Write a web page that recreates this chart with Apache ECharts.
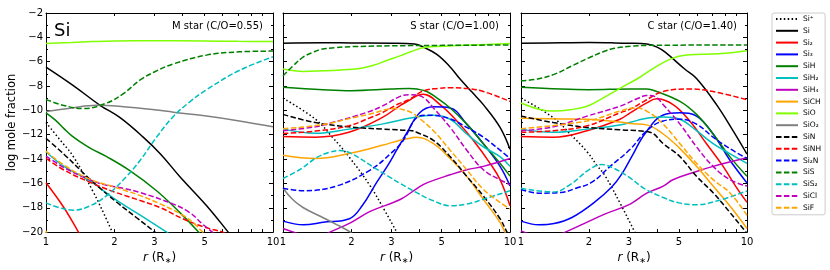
<!DOCTYPE html>
<html>
<head>
<meta charset="utf-8">
<script src="https://cdn.jsdelivr.net/npm/echarts@6/dist/echarts.min.js"></script>
<style>html,body{margin:0;padding:0;background:#fff}#c{width:830px;height:270px}</style>
</head>
<body>
<div id="c"></div>
<script>
// ---------- species ----------
const species = ['Si⁺','Si','Si₂','Si₃','SiH','SiH₂','SiH₄','SiCH','SiO','SiO₂','SiN','SiNH','Si₂N','SiS','SiS₂','SiCl','SiF'];
const panelTitles = ['M star (C/O=0.55)','S star (C/O=1.00)','C star (C/O=1.40)'];
const xTickLabels = [1,2,3,5,10];
const xTicks = [1,2,3,4,5,6,7,8,9,10];

// ---------- M star ----------
const M_Sip = [[1,-11.0],[1.15,-12.4],[1.32,-13.8],[1.62,-16.75],[1.8,-18.5],[1.97,-20.1]];
const M_Si = [[1,-6.44],[1.31,-7.92],[1.73,-9.58],[2.12,-10.6],[2.68,-12.2],[3.2,-13.6],[3.89,-15.45],[5.1,-17.83],[6.35,-20.0],[6.6,-20.4]];
const M_Si2 = [[1,-15.95],[1.2,-18.0],[1.39,-20.0],[1.45,-20.6]];
const M_Si3 = [];
const M_SiH = [[1,-10.2],[1.1,-10.8],[1.2,-11.5],[1.3,-12.1],[1.46,-12.75],[1.6,-13.2],[1.85,-13.8],[2.34,-14.95],[3.07,-16.6],[3.89,-18.4],[4.7,-20.0],[4.9,-20.5]];
const M_SiH2 = [[1,-13.4],[1.2,-14.6],[1.56,-15.8],[2.05,-17.4],[2.6,-18.6],[3.4,-20.0],[3.6,-20.3]];
const M_SiH4 = [];
const M_SiCH = [[1,-19.9],[1.02,-20.3]];
const M_SiO = [[1,-4.5],[1.3,-4.42],[1.6,-4.35],[2,-4.3],[3,-4.28],[5,-4.3],[7,-4.33],[10,-4.35]];
const M_SiO2 = [[1,-10.1],[1.3,-9.8],[1.67,-9.58],[2.2,-9.7],[3,-9.95],[3.64,-10.15],[5,-10.45],[7,-10.85],[10,-11.35]];
const M_SiN = [[1,-12.3],[1.2,-13.6],[1.56,-15.65],[2.05,-17.55],[2.5,-18.8],[3.02,-20.0],[3.2,-20.4]];
const M_SiNH = [[1,-13.95],[1.2,-14.9],[1.56,-15.9],[2.0,-16.7],[2.6,-17.4],[3.2,-18.0],[4.0,-18.9],[5.0,-19.6],[6.0,-20.0],[6.3,-20.2]];
const M_Si2N = [];
const M_SiS = [[1,-9.1],[1.2,-9.6],[1.46,-9.85],[1.85,-9.4],[2.2,-8.6],[2.59,-7.52],[3,-6.85],[3.64,-6.18],[5.1,-5.46],[7.14,-5.19],[10,-5.13]];
const M_SiS2 = [[1,-17.6],[1.15,-18.0],[1.32,-18.2],[1.56,-17.85],[1.85,-17.0],[2.27,-15.4],[2.6,-14.1],[3.07,-12.2],[3.64,-10.5],[4.3,-9.3],[5.1,-8.3],[7.14,-6.7],[10,-5.6]];
const M_SiCl = [[1,-13.75],[1.2,-14.7],[1.56,-15.7],[1.8,-16.1],[2.19,-16.4],[2.6,-16.75],[3.64,-17.7],[4.3,-18.4],[4.93,-19.4],[5.4,-20.0],[5.6,-20.3]];
const M_SiF = [[1,-13.35],[1.2,-14.5],[1.56,-15.65],[2.0,-16.3],[2.6,-17.0],[3.2,-17.7],[4.0,-18.6],[4.5,-19.3],[4.9,-20.0],[5.1,-20.3]];

// ---------- S star ----------
const S_Sip = [[1,-8.99],[1.39,-10.73],[1.65,-12.2],[1.95,-13.8],[2.42,-16.2],[2.8,-18.2],[3.17,-20.0],[3.3,-20.6]];
const S_Si = [[1,-4.48],[1.5,-4.44],[2,-4.46],[3,-4.48],[3.8,-4.55],[4.2,-4.85],[4.76,-5.4],[5.4,-6.35],[6.0,-7.38],[6.8,-8.5],[7.63,-9.53],[9.04,-11.4],[10,-13.2]];
const S_Si2 = [[1,-12.15],[1.39,-12.2],[1.95,-11.8],[2.73,-10.6],[3.28,-9.6],[3.58,-9.2],[3.88,-8.8],[4.15,-8.67],[4.92,-9.53],[5.83,-10.87],[6.9,-12.47],[8.17,-14.35],[9.04,-15.69],[10,-17.83]];
const S_Si3 = [[1,-19.1],[1.23,-19.4],[1.5,-19.2],[1.96,-18.9],[2.24,-17.8],[2.59,-15.9],[2.9,-14.5],[3.17,-13.25],[3.5,-11.9],[4.0,-10.2],[4.6,-9.71],[5.45,-9.8],[6.45,-11.13],[7.63,-12.74],[9.04,-14.6],[10,-16.2]];
const S_SiH = [[1,-8.1],[1.5,-8.3],[2,-8.38],[3,-8.25],[3.6,-8.2],[3.9,-8.25],[4.3,-8.45],[4.76,-8.97],[5.45,-9.8],[6.45,-11.13],[7.63,-12.74],[9.04,-14.35],[10,-15.4]];
const S_SiH2 = [[1,-11.54],[1.39,-11.88],[1.95,-11.54],[2.73,-11.13],[3.7,-10.6],[4.6,-10.41],[5.45,-10.73],[6.45,-11.94],[7.63,-13.0],[9.04,-13.8],[10,-14.6]];
const S_SiH4 = [[1,-19.7],[1.2,-20.2],[1.4,-20.5],[1.61,-20.0],[2.0,-19.2],[2.42,-18.3],[3.3,-17.3],[3.9,-16.4],[4.3,-15.96],[5.45,-15.29],[6.45,-14.88],[7.63,-14.6],[10,-13.95]];
const S_SiCH = [[1,-13.68],[1.39,-13.95],[1.95,-13.55],[2.73,-12.87],[3.28,-12.45],[3.7,-12.25],[3.88,-12.2],[4.6,-12.74],[5.45,-13.95],[6.45,-15.42],[7.63,-17.3],[9.04,-19.2],[9.5,-20.0],[9.8,-20.4]];
const S_SiO = [[1,-6.6],[1.23,-6.8],[1.5,-6.75],[1.73,-6.7],[2.19,-6.55],[2.5,-6.3],[2.87,-5.9],[3.3,-5.5],[3.63,-5.2],[4.3,-4.8],[5.6,-4.7],[7,-4.62],[10,-4.5]];
const S_SiO2 = [[1,-16.4],[1.1,-17.3],[1.23,-18.0],[1.46,-18.7],[1.73,-19.4],[1.98,-20.0],[2.1,-20.4]];
const S_SiN = [[1,-10.33],[1.39,-11.0],[1.95,-11.35],[2.73,-11.54],[3.7,-11.67],[3.88,-11.8],[4.6,-12.47],[5.45,-13.8],[6.45,-15.42],[7.63,-17.03],[9.04,-18.9],[9.7,-20.0],[10,-20.4]];
const S_SiNH = [[1,-11.9],[1.39,-11.7],[1.95,-11.27],[2.42,-10.6],[2.73,-10.2],[3.2,-9.5],[3.58,-9.13],[4.15,-8.4],[4.8,-8.2],[5.45,-8.14],[6.45,-8.2],[7.63,-8.45],[10,-9.26]];
const S_Si2N = [[1,-16.4],[1.23,-16.6],[1.73,-16.2],[2.42,-14.9],[3.0,-13.5],[3.39,-12.45],[3.88,-10.6],[4.3,-10.4],[4.6,-10.41],[5.45,-10.7],[6.45,-11.4],[7.63,-12.2],[9.04,-13.27],[10,-13.95]];
const S_SiS = [[1,-7.17],[1.1,-6.4],[1.23,-5.6],[1.35,-5.25],[1.46,-5.0],[1.7,-4.85],[2.04,-4.76],[3.63,-4.68],[10,-4.63]];
const S_SiS2 = [[1,-15.6],[1.2,-14.8],[1.4,-13.9],[1.6,-13.45],[1.78,-13.3],[2.0,-13.55],[2.47,-14.6],[2.9,-15.4],[3.28,-16.0],[3.88,-16.76],[4.6,-17.43],[5.45,-17.83],[6.45,-17.7],[7.63,-17.3],[10,-16.6]];
const S_SiCl = [[1,-11.67],[1.39,-11.35],[1.65,-11.0],[2.31,-10.2],[2.73,-9.66],[3.28,-8.85],[3.6,-8.72],[3.9,-8.75],[4.2,-9.0],[4.6,-9.8],[5.45,-11.4],[6.45,-13.27],[7.63,-14.88],[9.04,-15.7],[10,-16.1]];
const S_SiF = [[1,-11.5],[1.46,-11.2],[2.04,-10.6],[2.42,-10.3],[3.1,-9.85],[3.4,-9.95],[3.7,-10.2],[3.88,-10.47],[4.6,-11.67],[5.45,-13.27],[6.45,-14.88],[7.63,-16.49],[9.04,-17.56],[10,-18.1]];

// ---------- C star ----------
const C_Sip = [[1,-8.99],[1.39,-10.6],[1.65,-11.94],[1.96,-13.4],[2.16,-14.48],[2.36,-15.4],[2.74,-17.6],[3.19,-20.0],[3.3,-20.5]];
const C_Si = [[1,-4.48],[1.5,-4.45],[2,-4.43],[2.5,-4.45],[3,-4.48],[3.6,-4.55],[4.0,-4.8],[4.33,-5.2],[5.3,-6.6],[5.98,-7.38],[7.33,-9.53],[8.67,-11.67],[10,-13.6]];
const C_Si2 = [[1,-12.15],[1.39,-12.2],[1.96,-11.67],[2.74,-10.73],[3.04,-10.2],[3.6,-9.39],[3.98,-9.05],[4.71,-9.53],[5.58,-10.87],[6.62,-12.74],[7.84,-14.6],[8.9,-16.22],[10,-17.56]];
const C_Si3 = [[1,-19.1],[1.2,-19.4],[1.4,-19.3],[1.68,-18.8],[2.13,-17.5],[2.52,-16.3],[2.8,-15.2],[3.09,-13.8],[3.54,-11.9],[4.26,-10.38],[5.05,-10.2],[5.98,-10.47],[7.08,-11.94],[8.39,-14.08],[10,-15.96]];
const C_SiH = [[1,-8.1],[1.5,-8.25],[1.99,-8.3],[3.04,-8.24],[3.6,-8.25],[3.98,-8.45],[5.05,-9.26],[5.98,-10.33],[7.08,-11.94],[8.39,-13.8],[10,-15.42]];
const C_SiH2 = [[1,-11.54],[1.39,-11.8],[1.96,-11.54],[2.74,-11.2],[3.3,-10.8],[3.72,-10.6],[4.26,-10.54],[5.05,-10.73],[5.98,-11.67],[7.08,-12.74],[8.39,-13.55],[10,-14.35]];
const C_SiH4 = [[1,-19.9],[1.15,-20.3],[1.35,-20.5],[1.57,-20.0],[1.9,-19.3],[2.36,-18.5],[3.04,-17.7],[3.6,-16.8],[4.26,-16.22],[4.7,-15.7],[5.98,-15.02],[7.08,-14.6],[10,-13.9]];
const C_SiCH = [[1,-10.65],[1.5,-10.7],[1.96,-10.73],[2.74,-10.95],[3.04,-11.08],[3.6,-11.19],[4.26,-11.94],[5.05,-13.14],[5.98,-14.6],[7.08,-16.22],[8.39,-17.83],[10,-19.7]];
const C_SiO = [[1,-9.39],[1.2,-9.9],[1.39,-10.06],[1.65,-9.95],[1.96,-9.66],[2.3,-9.0],[2.74,-8.19],[3.3,-7.36],[3.85,-6.55],[4.63,-5.75],[5.4,-5.45],[7.5,-5.35],[10,-5.1]];
const C_SiO2 = [];
const C_SiN = [[1,-10.47],[1.39,-11.0],[1.96,-11.4],[2.74,-11.6],[3.72,-11.8],[4.26,-12.74],[5.05,-13.8],[5.98,-15.42],[7.08,-16.76],[8.39,-18.37],[9.7,-19.8],[10,-20.1]];
const C_SiNH = [[1,-11.8],[1.39,-11.67],[1.96,-11.27],[2.74,-10.2],[3.04,-9.9],[3.5,-9.26],[4.26,-8.45],[5.58,-8.24],[7.08,-8.45],[10,-9.13]];
const C_Si2N = [[1,-16.5],[1.2,-16.8],[1.5,-16.75],[1.75,-16.4],[2.06,-15.9],[2.48,-14.6],[3.04,-13.2],[3.6,-11.67],[4.26,-10.87],[5.05,-10.73],[5.98,-11.13],[7.08,-12.2],[8.39,-13.14],[10,-13.95]];
const C_SiS = [[1,-7.57],[1.2,-7.4],[1.42,-7.0],[1.7,-6.3],[1.99,-5.7],[2.3,-5.2],[2.6,-4.9],[3.1,-4.72],[4,-4.65],[10,-4.63]];
const C_SiS2 = [[1,-16.4],[1.39,-16.7],[1.65,-16.1],[1.99,-14.9],[2.27,-14.45],[2.6,-14.8],[3.04,-15.55],[3.5,-16.4],[4.26,-17.16],[5.0,-17.6],[5.98,-17.75],[7.4,-17.43],[10,-16.62]];
const C_SiCl = [[1,-11.67],[1.39,-11.35],[1.96,-10.47],[2.74,-9.66],[3.3,-9.0],[3.6,-8.78],[3.9,-8.85],[4.26,-9.53],[5.05,-11.13],[5.98,-13.0],[7.08,-14.6],[8.39,-15.69],[10,-16.22]];
const C_SiF = [[1,-11.5],[1.96,-10.87],[2.74,-10.06],[3.2,-9.8],[3.6,-10.06],[4.26,-11.13],[5.05,-12.74],[5.98,-14.35],[7.08,-15.69],[8.39,-16.76],[10,-18.63]];

// ---------- styles ----------
const colors = ['#000000','#000000','#ff0000','#0000ff','#008000','#00bfbf','#bf00bf','#ffa500','#7fff00','#808080','#000000','#ff0000','#0000ff','#008000','#00bfbf','#bf00bf','#ffa500'];
const DASH = [5.5,2.4], DOT = [1.5,2.4];
const dashes = [DOT,'solid','solid','solid','solid','solid','solid','solid','solid','solid',DASH,DASH,DASH,DASH,DASH,DASH,DASH];

const panelData = [
  [M_Sip,M_Si,M_Si2,M_Si3,M_SiH,M_SiH2,M_SiH4,M_SiCH,M_SiO,M_SiO2,M_SiN,M_SiNH,M_Si2N,M_SiS,M_SiS2,M_SiCl,M_SiF],
  [S_Sip,S_Si,S_Si2,S_Si3,S_SiH,S_SiH2,S_SiH4,S_SiCH,S_SiO,S_SiO2,S_SiN,S_SiNH,S_Si2N,S_SiS,S_SiS2,S_SiCl,S_SiF],
  [C_Sip,C_Si,C_Si2,C_Si3,C_SiH,C_SiH2,C_SiH4,C_SiCH,C_SiO,C_SiO2,C_SiN,C_SiNH,C_Si2N,C_SiS,C_SiS2,C_SiCl,C_SiF]
];

const FONT = 'DejaVu Sans';
const gridLeft = [46, 283, 521];
const gridWidth = [227, 227, 226];
const grids = [], xAxes = [], yAxes = [], series = [];

for (let p = 0; p < 3; p++) {
  grids.push({left: gridLeft[p], top: 13, width: gridWidth[p], height: 224, containLabel: false});
  const axLine = {show: true, lineStyle: {color: '#000', width: 1}};
  xAxes.push({
    type: 'log', logBase: 10, min: 1, max: 10, gridIndex: p, position: 'bottom',
    axisLine: axLine,
    axisTick: {show: true, inside: true, length: 3, customValues: xTicks, lineStyle: {color: '#000'}},
    axisLabel: {show: true, customValues: xTickLabels, margin: 5, fontSize: 10, fontFamily: FONT, color: '#000',
      formatter: v => String(Math.round(v))},
    splitLine: {show: false}, minorTick: {show: false}, minorSplitLine: {show: false},
    name: '{i|r} (R{s|∗})', nameLocation: 'middle', nameGap: 17,
    nameTextStyle: {fontSize: 12, fontFamily: FONT, color: '#000', verticalAlign: 'top',
      rich: {i: {fontStyle: 'italic', fontSize: 12, fontFamily: FONT, color: '#000'},
             s: {fontSize: 8, fontFamily: FONT, color: '#000', verticalAlign: 'bottom', padding: [6,0,0,0]}}}
  });
  xAxes.push({
    type: 'log', logBase: 10, min: 1, max: 10, gridIndex: p, position: 'top',
    axisLine: axLine,
    axisTick: {show: true, inside: true, length: 3, customValues: xTicks, lineStyle: {color: '#000'}},
    axisLabel: {show: false}, splitLine: {show: false}
  });
  yAxes.push({
    type: 'value', min: -20, max: -2, interval: 2, gridIndex: p, position: 'left',
    axisLine: axLine,
    axisTick: {show: true, inside: true, length: 4, lineStyle: {color: '#000'}},
    minorTick: {show: true, splitNumber: 2, length: 2, lineStyle: {color: '#000'}},
    axisLabel: {show: p === 0, margin: 3, fontSize: 10, fontFamily: FONT, color: '#000',
      formatter: v => String(v).replace('-', '\u2212')},
    splitLine: {show: false},
    name: p === 0 ? 'log mole fraction' : '', nameLocation: 'middle', nameRotate: 90, nameGap: 28,
    nameTextStyle: {fontSize: 11.5, fontFamily: FONT, color: '#000'}
  });
  yAxes.push({
    type: 'value', min: -20, max: -2, interval: 2, gridIndex: p, position: 'right',
    axisLine: axLine,
    axisTick: {show: true, inside: true, length: 4, lineStyle: {color: '#000'}},
    minorTick: {show: true, splitNumber: 2, length: 2, lineStyle: {color: '#000'}},
    axisLabel: {show: false}, splitLine: {show: false}
  });
  panelData[p].forEach((d, k) => {
    series.push({
      type: 'line', name: species[k], data: d,
      xAxisIndex: p * 2, yAxisIndex: p * 2,
      symbol: 'none', showSymbol: false, smooth: 0.4, clip: true,
      lineStyle: {color: colors[k], width: 1.5, type: dashes[k]},
      itemStyle: {color: colors[k], opacity: 0},
      emphasis: {disabled: true}, silent: true, animation: false
    });
  });
}

const titleRight = [263, 499, 737];
const graphics = [
  {type: 'text', x: 54, y: 31.5, style: {text: 'Si', fontSize: 18, fontFamily: FONT, fill: '#000', align: 'left', verticalAlign: 'middle'}}
];
for (let p = 0; p < 3; p++) {
  graphics.push({type: 'text', x: titleRight[p], y: 26, style: {text: panelTitles[p], fontSize: 10, fontFamily: FONT, fill: '#000', align: 'right', verticalAlign: 'middle'}});
}

const chart = echarts.init(document.getElementById('c'), null, {renderer: 'canvas'});
chart.setOption({
  animation: false,
  backgroundColor: '#fff',
  grid: grids, xAxis: xAxes, yAxis: yAxes, series: series,
  legend: {
    data: species, orient: 'vertical', left: 772, top: 13,
    itemWidth: 22, itemHeight: 8, itemGap: 3.8,
    padding: [2, 4, 3, 3],
    borderColor: '#cccccc', borderWidth: 1, borderRadius: 2,
    itemStyle: {opacity: 0, borderWidth: 0},
    textStyle: {fontSize: 7.5, fontFamily: FONT, color: '#000'},
    selectedMode: false
  },
  graphic: graphics
});
</script>
</body>
</html>
